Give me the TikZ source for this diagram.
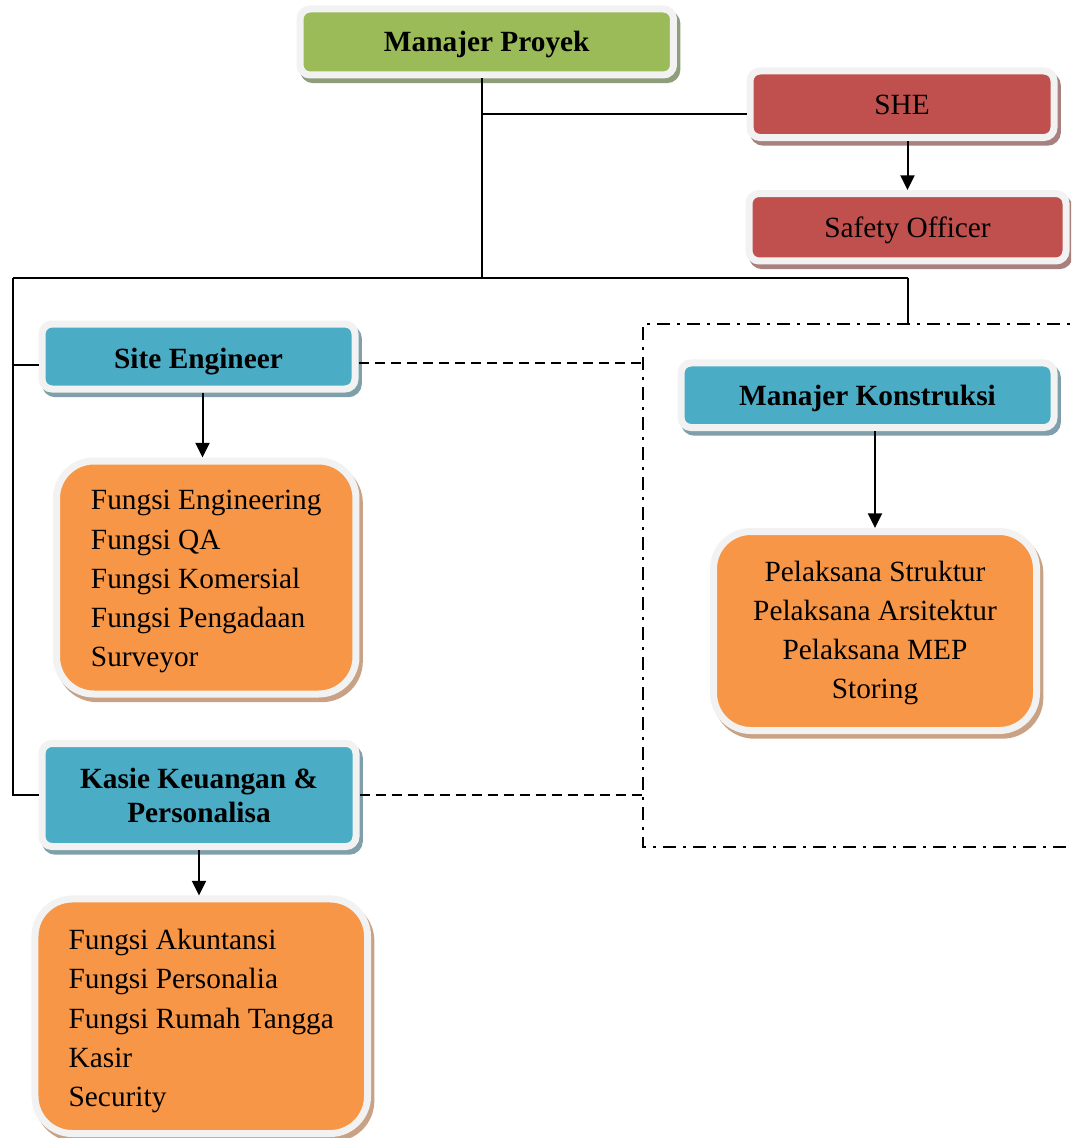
\documentclass[tikz,border=0pt]{standalone}
\usepackage{fontspec}
\setmainfont{Liberation Serif}
\usetikzlibrary{arrows.meta,shadows}
\definecolor{cG}{HTML}{9BBB59}
\definecolor{cR}{HTML}{C0504D}
\definecolor{cB}{HTML}{4BACC6}
\definecolor{cO}{HTML}{F79646}
\definecolor{shG}{HTML}{8E9E7A}
\definecolor{shR}{HTML}{A8807E}
\definecolor{shB}{HTML}{7FA0AA}
\definecolor{shO}{HTML}{C9A285}
\definecolor{rim}{HTML}{F2F2F2}
\newcommand\lowerby[2]{\raisebox{-#1}[\height][\depth]{#2}}
\tikzset{
  box/.style={draw=rim, line width=5.25pt, rounded corners=7.5pt, inner sep=0pt, align=center},
  sh/.style={drop shadow={shadow xshift=2.5pt, shadow yshift=-3.5pt, opacity=1, fill=#1, draw=#1, line width=5.25pt}},
  titlef/.style={font=\fontsize{22pt}{25.5pt}\selectfont\bfseries},
  plainf/.style={font=\fontsize{22pt}{29.4pt}\selectfont},
  listbox/.style={box, rounded corners=28pt, fill=cO, sh=shO, plainf},
  conn/.style={line width=1.5pt, black},
  arr/.style={conn, -{Triangle[length=11pt,width=10.5pt]}},
  dsh/.style={conn, dash pattern=on 7.5pt off 4.5pt},
  dshdot/.style={conn, dash pattern=on 9.75pt off 5.25pt on 2.25pt off 5.25pt},
}
\begin{document}
\begin{tikzpicture}[x=0.75pt,y=-0.75pt]
\useasboundingbox (0,0) rectangle (1071,1138);
\clip (0,0) rectangle (1071,1138);
\fill[white] (0,0) rectangle (1071,1138);

% title boxes
\node[box, fill=cG, sh=shG, titlef, minimum width=280.1pt, minimum height=49.5pt] (mp) at (486.75,42) {\lowerby{1.5pt}{Manajer Proyek}};
\node[box, fill=cR, sh=shR, plainf, minimum width=228pt, minimum height=49.9pt] (she) at (902,104.25) {\lowerby{0.75pt}{SHE}};
\node[box, fill=cR, sh=shR, plainf, minimum width=237.75pt, minimum height=50.6pt] (so) at (907.5,227.25) {\lowerby{2.25pt}{Safety Officer}};
\node[box, fill=cB, sh=shB, titlef, minimum width=234.75pt, minimum height=48.75pt] (se) at (198.5,356.5) {\lowerby{3.75pt}{Site Engineer}};
\node[box, fill=cB, sh=shB, titlef, minimum width=279.75pt, minimum height=48.4pt] (mk) at (867.5,395.25) {\lowerby{2.6pt}{Manajer Konstruksi}};
\node[box, fill=cB, sh=shB, titlef, minimum width=235.5pt, minimum height=77.25pt] (kk) at (199,795) {Kasie Keuangan \&\\Personalisa};

% list boxes
\node[listbox, minimum width=224.6pt, minimum height=174.75pt] (ob1) at (206.25,577.5)
  {\lowerby{2.25pt}{\begin{tabular}{@{}l@{}}Fungsi Engineering\\Fungsi QA\\Fungsi Komersial\\Fungsi Pengadaan\\Surveyor\end{tabular}}};
\node[listbox, minimum width=242.25pt, minimum height=149.25pt] (ob2) at (875,631)
  {\lowerby{0.75pt}{\begin{tabular}{@{}c@{}}Pelaksana Struktur\\Pelaksana Arsitektur\\Pelaksana MEP\\Storing\end{tabular}}};
\node[listbox, minimum width=249.4pt, minimum height=175.9pt] (ob3) at (201.25,1016.25)
  {\lowerby{3pt}{\begin{tabular}{@{}l@{}}Fungsi Akuntansi\\Fungsi Personalia\\Fungsi Rumah Tangga\\Kasir\\Security\end{tabular}}};

% junction coordinates
\coordinate (top) at (482,278);
\coordinate (L) at (13,278);
\coordinate (R) at (908,278);
\coordinate (shebr) at (482,114);
\coordinate (ddtl) at (643,324);
\coordinate (ddbl) at (643,847);
\coordinate (ddtr) at (1090,324);
\coordinate (ddbr) at (1090,847);

% solid connectors
\draw[conn] (mp.south -| top) -- (top);
\draw[conn] (shebr) -- (shebr -| she.west);
\draw[conn] (L) -- (R);
\draw[conn] (R) -- (R |- ddtl);
\draw[conn] (L) |- (kk.west);
\draw[conn] ([yshift=-6pt]se.west) -| (L);

% dash-dot group and dashed links
\draw[dshdot] (ddtr) -- (ddtl) -- (ddbl) -- (ddbr);
\draw[dsh] ([yshift=-4.5pt]se.east) -- ([yshift=-4.5pt]se.east -| ddtl);
\draw[dsh] (kk.east) -- (kk.east -| ddtl);

% arrows
\draw[arr] (she.south -| so.north) -- (so.north);
\draw[arr] ([xshift=3pt]se.south) -- ([xshift=3pt]se.south |- ob1.north);
\draw[arr] (mk.south -| ob2.north) -- (ob2.north);
\draw[arr] (kk.south) -- (kk.south |- ob3.north);
\end{tikzpicture}
\end{document}
